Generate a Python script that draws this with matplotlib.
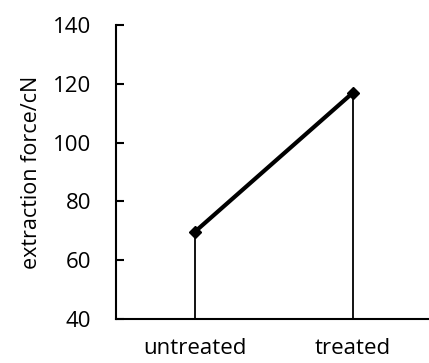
import matplotlib
matplotlib.use("Agg")
import matplotlib.pyplot as plt

categories = ["untreated", "treated"]
values = [69.7, 117.0]
yticks = [40, 60, 80, 100, 120, 140]

plt.rcParams['font.family'] = ['Open Sans', 'DejaVu Sans']

fig = plt.figure(figsize=(4.29, 3.63), dpi=100)
ax = fig.add_axes([116/429, 44/363, (429-116)/429, 294/363])

xs = [0.5, 1.5]
ax.vlines(xs, 40, values, colors='black', linewidth=1.3, zorder=2)
ax.plot(xs, values, color='black', linewidth=3, marker='D', markersize=6.5, zorder=3)

ax.set_ylim(40, 140)
ax.set_xlim(0, (429-116)/158)
ax.set_yticks(yticks)
ax.set_yticklabels([str(t) for t in yticks], fontsize=16)
ax.set_xticks(xs)
ax.set_xticklabels(categories, fontsize=16)
ax.tick_params(axis='x', length=0, pad=14)
ax.tick_params(axis='y', length=6, width=1.5, direction='in', pad=18)
for s in ['top', 'right']:
    ax.spines[s].set_visible(False)
for s in ['left', 'bottom']:
    ax.spines[s].set_linewidth(1.5)
ax.set_ylabel("extraction force/cN", fontsize=15.5, labelpad=8)

fig.savefig("out.png", dpi=100)
